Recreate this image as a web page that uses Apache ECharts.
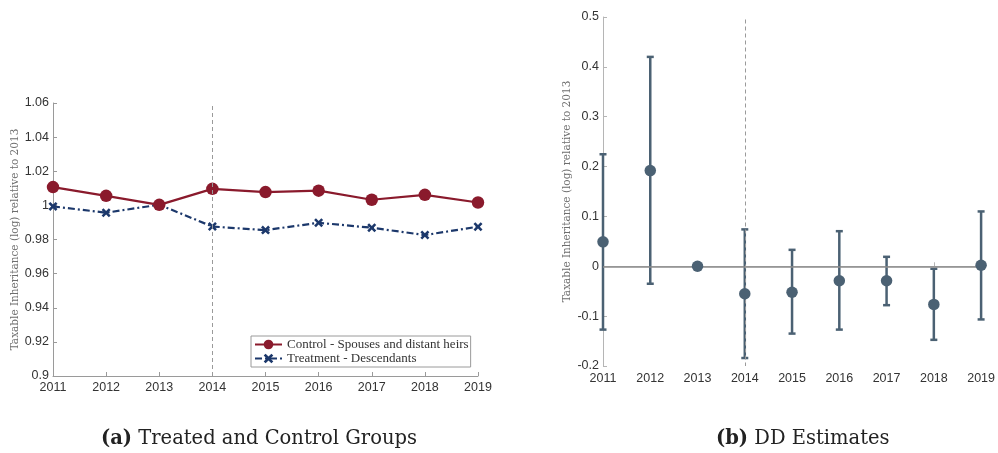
<!DOCTYPE html>
<html>
<head>
<meta charset="utf-8">
<script src="https://cdn.jsdelivr.net/npm/echarts@6/dist/echarts.min.js"></script>
<style>
  html, body { margin: 0; padding: 0; background: #fff; }
  #chart { width: 998px; height: 453px; }
</style>
</head>
<body>
<div id="chart"></div>
<script>
// Years shared by both panels
const years = ['2011', '2012', '2013', '2014', '2015', '2016', '2017', '2018', '2019'];

// Panel (a): taxable inheritance relative to 2013, by group
const controlValues   = [1.0107, 1.0056, 1.0003, 1.0097, 1.0078, 1.0086, 1.0033, 1.0062, 1.0017];
const treatmentValues = [0.9994, 0.9957, 1.0004, 0.9876, 0.9855, 0.9898, 0.9869, 0.9826, 0.9875];

// Panel (b): difference-in-differences estimates with confidence bounds
const ddEstimates = [0.049, 0.192, 0.000, -0.055, -0.052, -0.029, -0.029, -0.0765, 0.002];
const ddLower     = [-0.127, -0.035, 0.000, -0.184, -0.135, -0.127, -0.078, -0.1475, -0.1066];
const ddUpper     = [0.2247, 0.420, 0.000, 0.074, 0.033, 0.0704, 0.019, -0.005, 0.110];

// Axis ticks
const leftTicks  = { min: 0.9, max: 1.06, interval: 0.02 };
const rightTicks = { min: -0.2, max: 0.5, interval: 0.1 };

const yTitle = 'Taxable Inheritance (log) relative to 2013';
const treatmentLabel = 'Treatment - Descendants';
const controlLabel = 'Control - Spouses and distant heirs';

const red = '#8a1a2c';
const navy = '#1c386b';
const slate = '#4b6173';
const serif = '"Liberation Serif", "DejaVu Serif", serif';
const wideSerif = '"DejaVu Serif", "Liberation Serif", serif';
const sans = '"Liberation Sans", Arial, sans-serif';

const xMark = 'path://M2,0 L5,3 L8,0 L10,2 L7,5 L10,8 L8,10 L5,7 L2,10 L0,8 L3,5 L0,2 Z';

const errorData = years.map((y, i) => [i, ddLower[i], ddUpper[i]]);

function axisCommon(color) {
  return {
    axisLine: { show: true, lineStyle: { color: color, width: 1 } },
    axisTick: { show: true, inside: true, length: 4, lineStyle: { color: color } },
    splitLine: { show: false }
  };
}
const tickFont = { color: '#333', fontFamily: sans, fontSize: 12.5 };

const chart = echarts.init(document.getElementById('chart'), null, { renderer: 'canvas' });

chart.setOption({
  animation: false,
  backgroundColor: '#fff',
  grid: [
    { left: 53, top: 103, width: 425, height: 273 },
    { left: 603, top: 17, width: 380, height: 349 }
  ],
  xAxis: [
    Object.assign(axisCommon('#9a9a9a'), {
      gridIndex: 0, type: 'category', data: years, boundaryGap: false,
      axisLabel: Object.assign({ margin: 5, interval: 0 }, tickFont)
    }),
    Object.assign(axisCommon('#b5b5b5'), {
      gridIndex: 1, type: 'category', data: years, boundaryGap: false,
      axisLabel: Object.assign({ margin: 6, interval: 0 }, tickFont)
    })
  ],
  yAxis: [
    Object.assign(axisCommon('#9a9a9a'), {
      gridIndex: 0, type: 'value',
      min: leftTicks.min, max: leftTicks.max, interval: leftTicks.interval,
      name: yTitle, nameLocation: 'middle', nameGap: 32, nameRotate: 90,
      nameTextStyle: { color: '#6e6e6e', fontFamily: wideSerif, fontSize: 10.5 },
      axisLabel: Object.assign({ margin: 4 }, tickFont)
    }),
    Object.assign(axisCommon('#b5b5b5'), {
      gridIndex: 1, type: 'value',
      min: rightTicks.min, max: rightTicks.max, interval: rightTicks.interval,
      name: yTitle, nameLocation: 'middle', nameGap: 30, nameRotate: 90,
      nameTextStyle: { color: '#6e6e6e', fontFamily: wideSerif, fontSize: 10.5 },
      axisLabel: Object.assign({ margin: 4 }, tickFont)
    })
  ],
  legend: {
    left: 251, top: 336,
    orient: 'vertical',
    backgroundColor: '#fff',
    borderColor: '#9a9a9a', borderWidth: 1, borderRadius: 0,
    padding: [2, 2, 2, 3],
    itemGap: 1, itemWidth: 27, itemHeight: 12,
    textStyle: { color: '#333', fontFamily: serif, fontSize: 13 },
    data: [controlLabel, treatmentLabel]
  },
  series: [
    {
      name: controlLabel, type: 'line', xAxisIndex: 0, yAxisIndex: 0,
      data: controlValues,
      symbol: 'circle', symbolSize: 12.5,
      lineStyle: { color: red, width: 2.2 },
      itemStyle: { color: red },
      z: 4,
      markLine: {
        silent: true, symbol: 'none', label: { show: false },
        lineStyle: { color: '#9a9a9a', type: [4, 3], width: 1 },
        data: [{ xAxis: '2014' }]
      }
    },
    {
      name: treatmentLabel, type: 'line', xAxisIndex: 0, yAxisIndex: 0,
      data: treatmentValues,
      symbol: xMark, symbolSize: 9,
      lineStyle: { color: navy, width: 2.2, type: [7, 3, 2, 3] },
      itemStyle: { color: navy },
      z: 3
    },
    {
      type: 'custom', xAxisIndex: 1, yAxisIndex: 1,
      data: errorData,
      z: 2,
      renderItem: function (params, api) {
        const i = api.value(0);
        const lo = api.coord([i, api.value(1)]);
        const hi = api.coord([i, api.value(2)]);
        const w = 3.5;
        const style = { stroke: slate, lineWidth: 2.5 };
        return {
          type: 'group',
          children: [
            { type: 'line', shape: { x1: lo[0], y1: lo[1], x2: hi[0], y2: hi[1] }, style: style },
            { type: 'line', shape: { x1: lo[0] - w, y1: lo[1], x2: lo[0] + w, y2: lo[1] }, style: style },
            { type: 'line', shape: { x1: hi[0] - w, y1: hi[1], x2: hi[0] + w, y2: hi[1] }, style: style }
          ]
        };
      },
      markLine: {
        silent: true, symbol: 'none', label: { show: false },
        data: [
          { yAxis: 0, lineStyle: { color: '#8c8c8c', type: 'solid', width: 1.5 } },
          [{ coord: ['2014', 0.495], lineStyle: { color: '#9a9a9a', type: [4, 3], width: 1 } },
           { coord: ['2014', -0.2] }]
        ]
      }
    },
    {
      type: 'scatter', xAxisIndex: 1, yAxisIndex: 1,
      data: ddEstimates,
      symbol: 'circle', symbolSize: 11.5,
      itemStyle: { color: slate, opacity: 1 },
      z: 5
    }
  ],
  graphic: [
    {
      type: 'text', left: 101, top: 429,
      style: {
        text: '{b|(a)} Treated and Control Groups',
        fontFamily: wideSerif, fontSize: 19.5, fill: '#222',
        rich: { b: { fontWeight: 'bold', fontFamily: wideSerif, fontSize: 19.5, fill: '#222' } }
      }
    },
    {
      type: 'text', left: 716, top: 429,
      style: {
        text: '{b|(b)} DD Estimates',
        fontFamily: wideSerif, fontSize: 19.5, fill: '#222',
        rich: { b: { fontWeight: 'bold', fontFamily: wideSerif, fontSize: 19.5, fill: '#222' } }
      }
    }
  ]
});
</script>
</body>
</html>
